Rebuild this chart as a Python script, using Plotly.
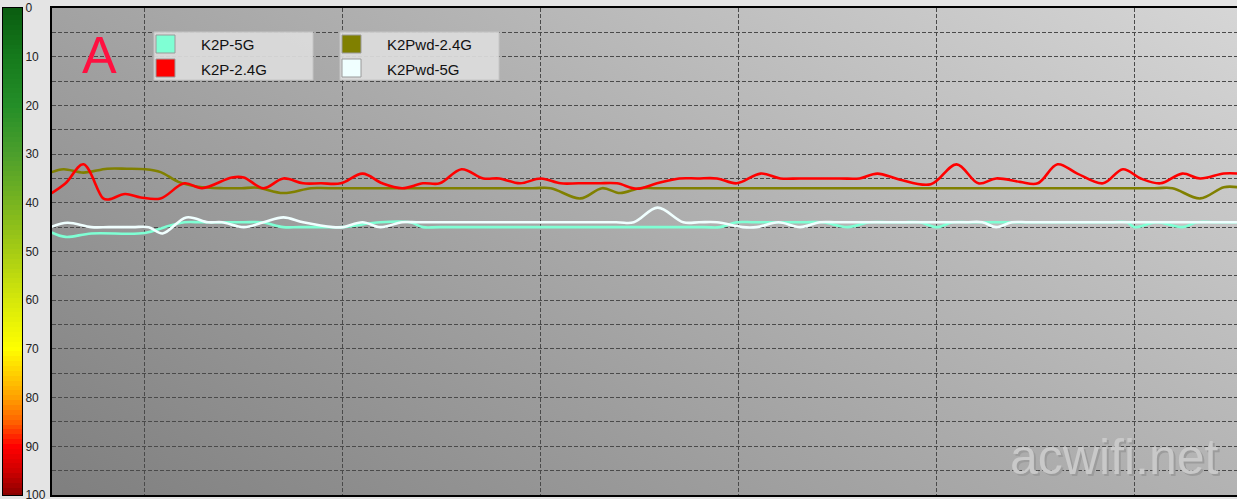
import base64
import plotly.graph_objects as go

# ---------------- data ----------------
series_names = ["K2P-5G", "K2P-2.4G", "K2Pwd-2.4G", "K2Pwd-5G"]
series_colors = ["#7fffd4", "#ff0000", "#808000", "#f0ffff"]

# K2P-5G
k2p_5g_t = [0, 0.7, 2.0, 4.7, 5.7, 6.7, 7.6, 9.7, 10.6, 11.7, 12.5, 13.9, 14.7, 16.6, 18.1,
            18.75, 19.6, 32.9, 33.75, 34.6, 35.5, 38.1, 38.95, 40.2, 41.3, 42.2, 43.0, 43.85,
            44.7, 45.5, 46.4, 53.4, 54.3, 54.7, 55.8, 57.1, 57.85, 58.8, 59.9]
k2p_5g_v = [46.1, 47.0, 46.3, 46.2, 45.0, 44.0, 44.0, 44.0, 44.0, 45.0, 45.0, 45.0, 45.0, 44.0,
            44.0, 45.0, 45.0, 45.0, 45.0, 44.0, 44.0, 44.0, 44.0, 45.0, 44.0, 44.0, 44.0, 44.0,
            45.0, 44.0, 44.0, 44.0, 44.0, 45.0, 44.0, 45.0, 44.0, 44.0, 44.0]

# K2P-2.4G
k2p_24g_t = [0, 0.7, 1.6, 2.6, 2.9, 3.7, 4.5, 5.5, 6.7, 7.6, 9.1, 9.7, 10.7, 11.7, 12.7, 13.6,
             14.6, 15.7, 16.7, 17.7, 18.75, 19.6, 20.7, 21.8, 22.6, 23.65, 24.7, 25.7, 26.6,
             27.6, 28.55, 29.56, 30.57, 31.7, 32.6, 33.6, 34.6, 35.8, 36.8, 37.8, 39.8, 40.8,
             41.7, 42.8, 44.4, 45.7, 46.8, 47.7, 48.9, 49.8, 50.8, 51.8, 53.1, 54.1, 55.0,
             56.0, 57.1, 58.0, 59.2, 59.9]
k2p_24g_v = [38.0, 36.0, 32.1, 39.1, 39.3, 38.2, 38.9, 39.1, 36.0, 37.0, 34.8, 34.8, 37.0, 35.0,
             36.0, 36.0, 36.0, 34.0, 36.0, 37.0, 36.0, 36.0, 33.1, 35.0, 35.0, 36.0, 35.0, 36.0,
             36.0, 36.0, 36.0, 37.1, 36.0, 35.0, 35.0, 35.0, 36.0, 34.0, 35.0, 35.0, 35.0, 35.0,
             34.0, 35.2, 36.2, 32.1, 36.0, 35.0, 35.7, 36.0, 32.1, 34.0, 36.0, 33.1, 35.0,
             36.0, 34.0, 35.0, 34.0, 34.0]

# K2Pwd-2.4G
k2pwd_24g_t = [0, 0.6, 1.6, 2.8, 3.8, 4.7, 5.5, 6.4, 7.4, 8.7, 9.6, 10.4, 11.7, 13.1, 14.0,
               24.3, 25.2, 26.7, 27.8, 28.7, 29.7, 30.6, 55.7, 56.6, 58.0, 59.2, 59.9]
k2pwd_24g_v = [33.7, 33.1, 33.8, 33.0, 33.0, 33.1, 33.7, 35.7, 36.7, 37.0, 37.0, 36.9, 38.0,
               37.0, 37.0, 37.0, 37.0, 39.1, 37.0, 38.0, 37.0, 37.0, 37.0, 37.0, 39.1, 36.8, 36.8]

# K2Pwd-5G
k2pwd_5g_t = [0, 0.8, 2.0, 2.9, 4.1, 4.9, 5.6, 6.8, 7.9, 8.6, 9.7, 10.7, 11.7, 12.7, 14.2,
              14.7, 15.7, 16.6, 17.7, 18.6, 28.5, 29.4, 30.6, 31.9, 32.7, 33.6, 34.9, 35.6,
              36.7, 37.8, 38.8, 39.7, 46.1, 47.0, 47.7, 48.5, 49.4, 59.9]
k2pwd_5g_v = [44.9, 44.1, 45.0, 45.0, 45.0, 45.0, 46.3, 43.0, 44.0, 44.0, 45.0, 44.0, 43.0, 44.0,
              45.0, 45.0, 44.0, 45.0, 44.0, 44.0, 44.0, 44.0, 41.0, 44.0, 44.0, 44.0, 45.0,
              45.0, 44.0, 45.0, 44.0, 44.0, 44.0, 44.0, 45.0, 44.0, 44.0, 44.0]

scale_ticks = [0, 10, 20, 30, 40, 50, 60, 70, 80, 90, 100]
scale_levels = list(range(0, 101))

# ---------------- geometry helpers ----------------
W, H = 1237, 499
PL, PT, PB = 51.7, 8.0, 495.0
PW, PH = W - PL, PB - PT


def fx(px):
    # paper x spans the full width (margins l = r = 0)
    return px / W


def fy(py):
    return (PB - py) / PH


# ---------------- background gradient (svg image) ----------------
svg = (
    "<svg xmlns='http://www.w3.org/2000/svg' width='1185' height='487' viewBox='0 0 1185 487' "
    "preserveAspectRatio='none'>"
    "<defs><linearGradient id='g' gradientUnits='userSpaceOnUse' x1='0' y1='487' x2='532' y2='-396'>"
    "<stop offset='0' stop-color='#7f7f7f'/><stop offset='1' stop-color='#d6d6d6'/>"
    "</linearGradient></defs><rect x='0' y='0' width='1185' height='487' fill='url(#g)'/></svg>"
)
svg_uri = "data:image/svg+xml;base64," + base64.b64encode(svg.encode()).decode()

fig = go.Figure()

# colour scale bar
scale_colors = [
    [0.0, "#0a5c10"], [0.1, "#157a1c"], [0.2, "#248e28"], [0.3, "#4c9f2c"],
    [0.4, "#78b420"], [0.5, "#a6cc14"], [0.6, "#d6e80a"], [0.7, "#ffff00"],
    [0.75, "#ffd000"], [0.8, "#ffa000"], [0.85, "#ff6000"], [0.9, "#ff0000"],
    [0.95, "#d00000"], [1.0, "#8a0000"],
]
fig.add_trace(go.Heatmap(
    x=[0], y=scale_levels, z=[[v] for v in scale_levels],
    colorscale=scale_colors, zmin=0, zmax=100, showscale=False,
    xaxis="x2", yaxis="y2", hoverinfo="skip",
))

series = [
    (k2p_5g_t, k2p_5g_v, 0),
    (k2pwd_5g_t, k2pwd_5g_v, 3),
    (k2pwd_24g_t, k2pwd_24g_v, 2),
    (k2p_24g_t, k2p_24g_v, 1),
]
for t, v, i in series:
    fig.add_trace(go.Scatter(
        x=t, y=v, mode="lines", name=series_names[i],
        line=dict(color=series_colors[i], width=2.6, shape="spline", smoothing=1.0),
        showlegend=False, hoverinfo="skip",
    ))

shapes = []
annotations = []

# custom legend (two boxes, two rows each)
box_left = [154, 340]
row_y = [44, 68]
for col in range(2):
    bx = box_left[col]
    shapes.append(dict(type="rect", xref="paper", yref="paper",
                       x0=fx(bx), x1=fx(bx + 159), y0=fy(32), y1=fy(80),
                       fillcolor="rgba(220,220,220,0.92)", line=dict(color="#c4c4c4", width=1),
                       layer="above"))
    for row in range(2):
        i = col * 2 + row
        cy = row_y[row]
        shapes.append(dict(type="rect", xref="paper", yref="paper",
                           x0=fx(bx + 2), x1=fx(bx + 21), y0=fy(cy - 9), y1=fy(cy + 9),
                           fillcolor=series_colors[i], line=dict(color="#9a9a9a", width=1),
                           layer="above"))
        annotations.append(dict(xref="paper", yref="paper", x=fx(bx + 45), y=fy(cy + 1),
                                text=series_names[i], showarrow=False, xanchor="left",
                                yanchor="middle",
                                font=dict(family="Liberation Sans, Arial", size=15, color="#111111")))

# big "A"
annotations.append(dict(xref="paper", yref="paper", x=fx(99), y=fy(55), text="A",
                        showarrow=False, xanchor="center", yanchor="middle",
                        font=dict(family="Liberation Sans, Arial", size=52, color="#ff1040")))

# watermark with shadow
for dx, dy, col in [(2, 2, "#9c9c9c"), (0, 0, "#c9c9c9")]:
    annotations.append(dict(xref="paper", yref="paper", x=fx(1114 + dx), y=fy(457 + dy),
                            text="acwifi.net", showarrow=False, xanchor="center",
                            yanchor="middle",
                            font=dict(family="Liberation Sans, Arial", size=50, color=col)))

fig.update_layout(
    width=W, height=H,
    margin=dict(l=0, r=0, t=8, b=4, pad=0, autoexpand=False),
    paper_bgcolor="#e4e4e4",
    plot_bgcolor="rgba(0,0,0,0)",
    showlegend=False,
    images=[dict(source=svg_uri, xref="paper", yref="paper", x=PL / W, y=1, sizex=PW / W,
                 sizey=1, sizing="stretch", xanchor="left", yanchor="top", layer="below")],
    shapes=shapes,
    annotations=annotations,
    xaxis=dict(domain=[PL / W, 1.0], range=[0, PW / 19.8], tick0=(144.3 - PL) / 19.8, dtick=10,
               showgrid=True, gridcolor="#4a4a4a", gridwidth=1, griddash="4px,2px",
               showticklabels=False, ticks="", zeroline=False, automargin=False,
               showline=True, linecolor="#000000", linewidth=2, mirror=True),
    yaxis=dict(range=[100, 0], dtick=5, tick0=0, showgrid=True, gridcolor="#4a4a4a",
               gridwidth=1, griddash="4px,2px", showticklabels=False, ticks="",
               zeroline=False, automargin=False,
               showline=True, linecolor="#000000", linewidth=2, mirror=False),
    xaxis2=dict(domain=[3 / W, 22 / W], range=[-0.5, 0.5], anchor="y2", showgrid=False,
                showticklabels=False, ticks="", zeroline=False, showline=True,
                automargin=False, linecolor="#000000", linewidth=1, mirror=True),
    yaxis2=dict(range=[100, 0], anchor="x2", side="right", tickvals=scale_ticks,
                ticks="", showgrid=False, zeroline=False, showline=True, automargin=False,
                ticklabeloverflow="allow",
                linecolor="#000000", linewidth=1, mirror=True,
                tickfont=dict(family="Liberation Sans, Arial", size=12, color="#222222")),
)

# remove the browser's default page margin so the figure starts at the window corner
fig.write_html("out.html", config={"displayModeBar": False},
               post_script="document.body.style.margin='0';document.body.style.overflow='hidden';")
